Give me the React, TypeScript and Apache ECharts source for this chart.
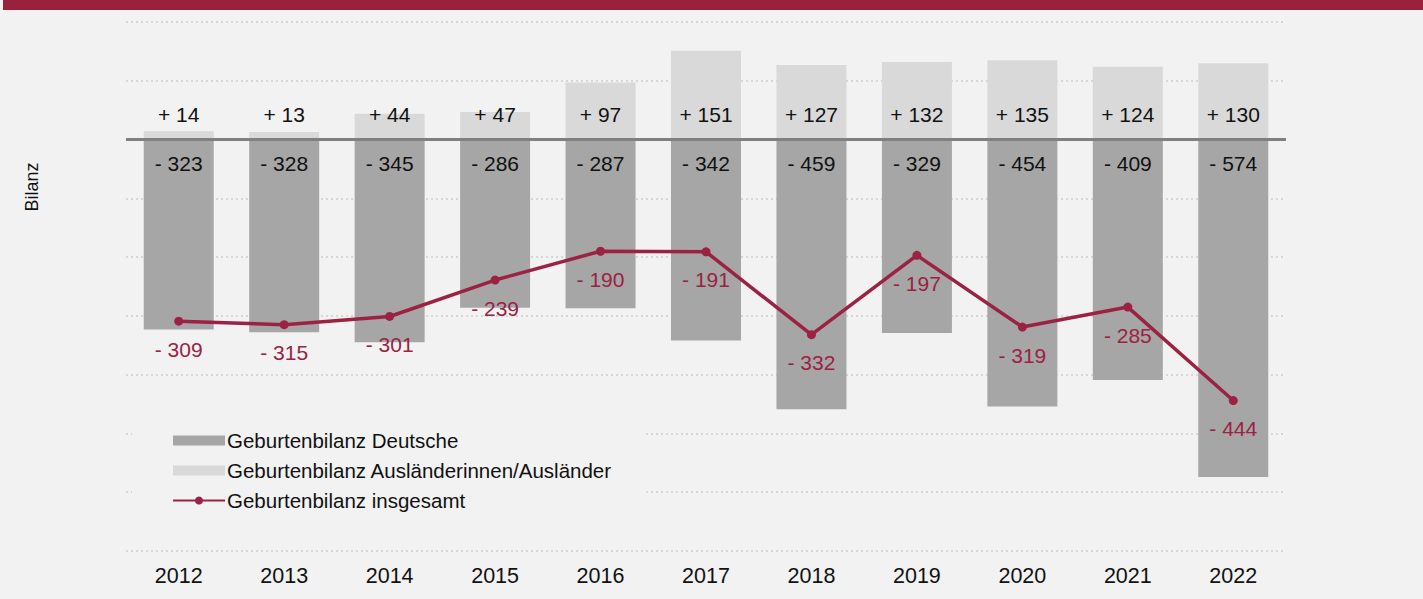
import React, { useEffect, useRef } from "react";
import * as echarts from "echarts";

const years = ["2012", "2013", "2014", "2015", "2016", "2017", "2018", "2019", "2020", "2021", "2022"];
const deutsche = [-323, -328, -345, -286, -287, -342, -459, -329, -454, -409, -574];
const auslaender = [14, 13, 44, 47, 97, 151, 127, 132, 135, 124, 130];
const insgesamt = [-309, -315, -301, -239, -190, -191, -332, -197, -319, -285, -444];

const FONT = "Liberation Sans, Arial, sans-serif";
const RED = "#9b2242";
const TXT = "#111111";

const fmt = (v: number) => (v > 0 ? "+ " + v : v < 0 ? "- " + Math.abs(v) : "0");

export default function App() {
  const ref = useRef<HTMLDivElement>(null);
  useEffect(() => {
    if (!ref.current) return;
    const chart = echarts.init(ref.current, undefined, { renderer: "svg" });
    chart.setOption({
      animation: false,
      backgroundColor: "#f2f2f2",
      textStyle: { fontFamily: FONT },
      grid: { left: 126, right: 137, top: 22, bottom: 48 },
      legend: {
        orient: "vertical",
        left: 132,
        top: 420,
        padding: [10, 34, 10, 40],
        backgroundColor: "#f2f2f2",
        itemWidth: 52,
        itemHeight: 10,
        itemGap: 9,
        textStyle: { fontFamily: FONT, fontSize: 20.5, color: TXT, lineHeight: 20, padding: [0, 0, 0, -3] },
        data: [
          { name: "Geburtenbilanz Deutsche", icon: "rect" },
          { name: "Geburtenbilanz Ausländerinnen/Ausländer", icon: "rect" },
          { name: "Geburtenbilanz insgesamt" },
        ],
      },
      graphic: [
        { type: "rect", left: 3, top: 0, shape: { width: 1420, height: 10 }, style: { fill: "#98223e" }, z: 100 },
        {
          type: "text",
          x: 32,
          y: 187,
          rotation: Math.PI / 2,
          style: { text: "Bilanz", fill: TXT, font: "18px " + FONT, align: "center", verticalAlign: "middle" },
        },
      ],
      xAxis: {
        type: "category",
        data: years,
        position: "bottom",
        axisLine: { show: false },
        axisTick: { show: false },
        axisLabel: { color: TXT, fontSize: 21.5, fontFamily: FONT, margin: 14 },
      },
      yAxis: {
        type: "value",
        min: -700,
        max: 200,
        interval: 100,
        axisLabel: { show: false },
        axisLine: { show: false },
        axisTick: { show: false },
        splitLine: { lineStyle: { color: "#d6d6d6", width: 2, type: [2, 3] } },
      },
      series: [
        {
          name: "Geburtenbilanz Deutsche",
          type: "bar",
          stack: "s",
          barWidth: 70,
          data: deutsche,
          itemStyle: { color: "#a6a6a6" },
          label: {
            show: true,
            position: "insideTop",
            distance: 13,
            color: TXT,
            fontSize: 21,
            fontFamily: FONT,
            formatter: (p: any) => fmt(p.value),
          },
          markLine: {
            silent: true,
            symbol: "none",
            label: { show: false },
            lineStyle: { color: "#808080", width: 3, type: "solid" },
            data: [{ yAxis: 0 }],
            z: 5,
          },
        },
        {
          name: "Geburtenbilanz Ausländerinnen/Ausländer",
          type: "bar",
          stack: "s",
          barWidth: 70,
          data: auslaender,
          itemStyle: { color: "#d9d9d9" },
          label: {
            show: true,
            position: "insideBottom",
            distance: 15,
            color: TXT,
            fontSize: 21,
            fontFamily: FONT,
            formatter: (p: any) => fmt(p.value),
          },
        },
        {
          name: "Geburtenbilanz insgesamt",
          type: "line",
          data: insgesamt,
          z: 10,
          symbol: "circle",
          symbolSize: 9,
          lineStyle: { color: RED, width: 3.5 },
          itemStyle: { color: RED },
          label: {
            show: true,
            position: "bottom",
            distance: 13,
            color: RED,
            fontSize: 21,
            fontFamily: FONT,
            formatter: (p: any) => fmt(p.value),
          },
        },
      ],
    });
    return () => chart.dispose();
  }, []);
  return (
    <div
      ref={ref}
      style={{ position: "fixed", left: 0, top: 0, width: 1423, height: 599, background: "#f2f2f2" }}
    />
  );
}
